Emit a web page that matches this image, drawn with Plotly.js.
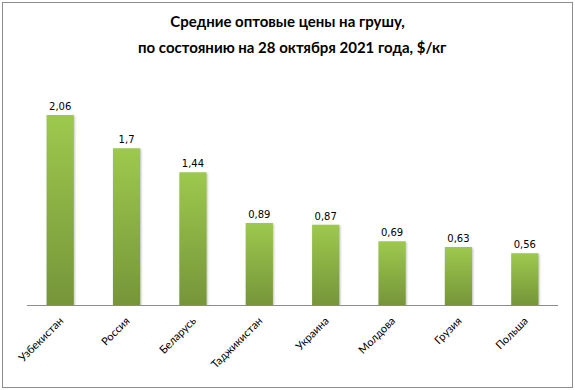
<!DOCTYPE html>
<html><head><meta charset="utf-8">
<script src="https://cdn.plot.ly/plotly-3.0.1.min.js"></script>
<style>
body{margin:0;background:#fff;}
#frame{position:absolute;left:2px;top:2px;width:569px;height:384px;border:1px solid #8c8c8c;box-sizing:content-box;}
#chart{position:absolute;left:0;top:0;width:575px;height:390px;}
</style></head>
<body>
<div id="chart"></div>
<div id="frame"></div>
<script>
const countries = ['Узбекистан','Россия','Беларусь','Таджикистан','Украина','Молдова','Грузия','Польша'];
const prices = [2.06, 1.7, 1.44, 0.89, 0.87, 0.69, 0.63, 0.56];
const labels = prices.map(v => String(v).replace('.', ','));
const titleLines = ['Средние оптовые цены на грушу,', 'по состоянию на 28 октября 2021 года, $/кг'];

const titleFont = {family: 'Lato, "Open Sans", sans-serif', size: 15, color: '#000', weight: 'bold'};
const trace = {
  type: 'bar', x: countries, y: prices, text: labels,
  textposition: 'outside', cliponaxis: false,
  textfont: {family: 'DejaVu Sans, Verdana, sans-serif', size: 10, color: '#000'},
  marker: {color: '#8bb043', line: {width: 0}},
  hoverinfo: 'none'
};
const layout = {
  width: 575, height: 390,
  margin: {l: 27, r: 17, t: 80, b: 85},
  bargap: 0.59,
  paper_bgcolor: '#fff', plot_bgcolor: '#fff',
  title: {text: titleLines[0], font: titleFont,
          x: 0.5, xanchor: 'center', y: 1 - 22/390, yanchor: 'middle'},
  annotations: [{text: titleLines[1], font: titleFont, showarrow: false,
          xref: 'paper', yref: 'paper', x: 0.5, xanchor: 'center',
          y: (305 - 47) / 225, yanchor: 'middle'}],
  xaxis: {showline: true, linecolor: '#8c8c8c', linewidth: 1, ticks: '', tickangle: -45,
          ticklabelstandoff: 4,
          tickfont: {family: 'Lato, "Open Sans", sans-serif', size: 11, color: '#000'},
          showgrid: false, zeroline: false, fixedrange: true},
  yaxis: {range: [0, 2.44], visible: false, showgrid: false, zeroline: false, fixedrange: true},
  showlegend: false
};
Plotly.newPlot('chart', [trace], layout, {staticPlot: true, displayModeBar: false}).then(gd => {
  const svg = gd.querySelector('svg.main-svg');
  const ns = 'http://www.w3.org/2000/svg';
  let defs = svg.querySelector('defs');
  const g = document.createElementNS(ns, 'linearGradient');
  g.setAttribute('id', 'barGrad');
  g.setAttribute('x1', '0'); g.setAttribute('y1', '0'); g.setAttribute('x2', '0'); g.setAttribute('y2', '1');
  [['0', '#9dc94d'], ['1', '#76953a']].forEach(([o, c]) => {
    const s = document.createElementNS(ns, 'stop');
    s.setAttribute('offset', o); s.setAttribute('stop-color', c);
    g.appendChild(s);
  });
  defs.appendChild(g);
  gd.querySelectorAll('.bars .point path').forEach(p => {
    p.style.fill = 'url(#barGrad)';
    p.style.filter = 'drop-shadow(1px 1px 1px rgba(0,0,0,0.25))';
  });
});
</script>
</body></html>
